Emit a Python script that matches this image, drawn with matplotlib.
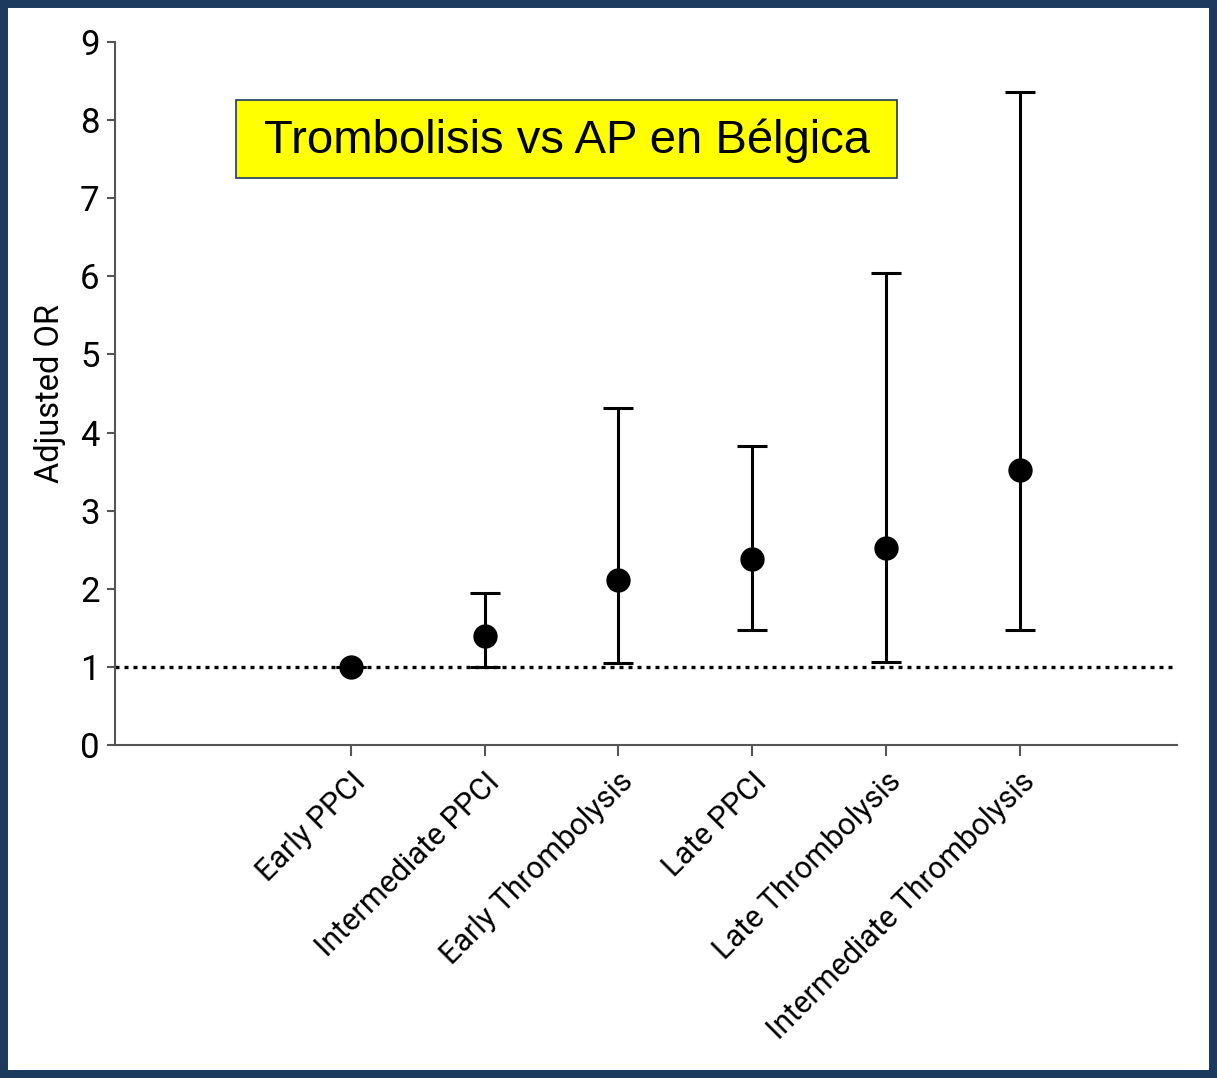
import matplotlib.pyplot as plt
from matplotlib.patches import Rectangle
import numpy as np

# data
categories = ['Early PPCI', 'Intermediate PPCI', 'Early Thrombolysis',
              'Late PPCI', 'Late Thrombolysis', 'Intermediate Thrombolysis']
odds_ratio = [1.0, 1.40, 2.11, 2.38, 2.52, 3.52]
ci_low = [1.0, 1.0, 1.05, 1.47, 1.06, 1.47]
ci_high = [1.0, 1.95, 4.31, 3.83, 6.04, 8.36]
y_ticks = list(range(0, 10))
title_text = 'Trombolisis vs AP en Bélgica'

navy = '#1b3a5e'
narrow = ['Liberation Sans Narrow', 'Roboto', 'DejaVu Sans']

fig = plt.figure(figsize=(12.17, 10.78), dpi=100)
ax = fig.add_axes([0.0945, 0.309, 0.8725, 0.652])

x = np.arange(len(categories))
yerr = [np.array(odds_ratio) - np.array(ci_low), np.array(ci_high) - np.array(odds_ratio)]

ax.axhline(1, color='black', linestyle=(0, (1.2, 1.5)), linewidth=2.4, zorder=1)
ax.errorbar(x, odds_ratio, yerr=yerr, fmt='o', color='black', markersize=16.5,
            elinewidth=2.2, capsize=11, capthick=2.2, zorder=3)

ax.set_xlim(-1.76, 6.17)
ax.set_ylim(0, 9)
ax.set_yticks(y_ticks)
ax.set_xticks(x)
ax.set_xticklabels(categories, rotation=45, ha='right', rotation_mode='anchor',
                   fontsize=22, family=narrow)
for lab in ax.get_yticklabels():
    lab.set_fontsize(25)
    lab.set_family(narrow)
ax.set_ylabel('Adjusted OR', fontsize=23.5, family=narrow, labelpad=10)

for side in ['top', 'right']:
    ax.spines[side].set_visible(False)
for side in ['left', 'bottom']:
    ax.spines[side].set_color('#555555')
    ax.spines[side].set_linewidth(1.5)
ax.tick_params(axis='y', length=6, width=1.5, color='#555555', pad=5)
ax.tick_params(axis='x', length=8, width=1.5, color='#555555', pad=8)

# title box
fig.add_artist(Rectangle((0.194, 0.835), 0.543, 0.072, transform=fig.transFigure,
                         facecolor='#ffff00', edgecolor=navy, linewidth=1.2))
fig.text(0.4655, 0.869, title_text, ha='center', va='center', fontsize=34,
         family=['Liberation Sans', 'DejaVu Sans'])

# outer frame
fig.add_artist(Rectangle((0, 0), 1, 1, transform=fig.transFigure, fill=False,
                         edgecolor=navy, linewidth=11.5))

fig.savefig('out.png', dpi=100)
